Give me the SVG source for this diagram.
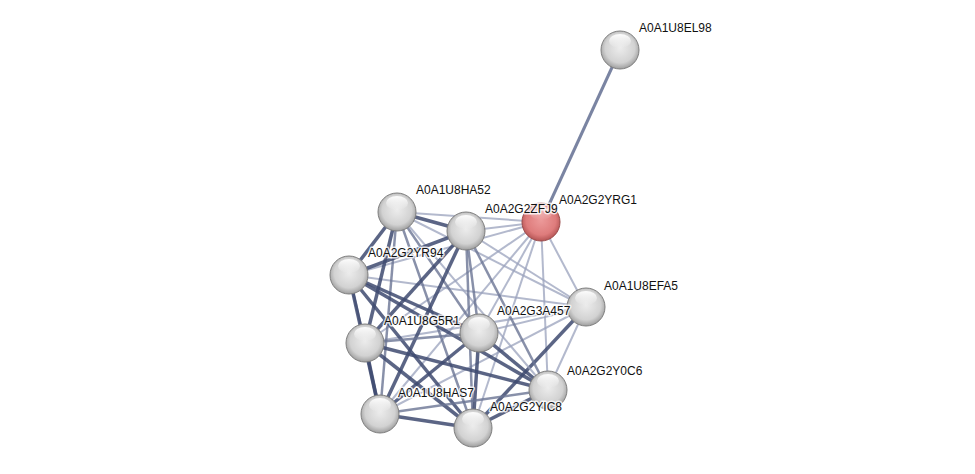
<svg xmlns="http://www.w3.org/2000/svg" width="975" height="474" viewBox="0 0 975 474">
<defs>
<radialGradient id="gw" cx="0.5" cy="0.45" r="0.6">
<stop offset="0" stop-color="#ececec"/>
<stop offset="0.65" stop-color="#d2d2d2"/>
<stop offset="1" stop-color="#8e8e8e"/>
</radialGradient>
<radialGradient id="gr" cx="0.5" cy="0.45" r="0.6">
<stop offset="0" stop-color="#ec9a9a"/>
<stop offset="0.65" stop-color="#de7c7c"/>
<stop offset="1" stop-color="#a84848"/>
</radialGradient>
<linearGradient id="hl" x1="0" y1="0" x2="0" y2="1">
<stop offset="0" stop-color="#fff" stop-opacity="0.95"/>
<stop offset="1" stop-color="#fff" stop-opacity="0"/>
</linearGradient>
<g id="ball">
<circle r="19" fill="url(#gw)" stroke="#7e7e7e" stroke-width="1"/>
<ellipse cx="0" cy="-9" rx="11" ry="7" fill="url(#hl)"/>
</g>
<g id="rball">
<circle r="19" fill="url(#gr)" stroke="#9a4a4a" stroke-width="1"/>
<ellipse cx="0" cy="-9" rx="11" ry="7" fill="url(#hl)" opacity="0.6"/>
</g>
</defs>
<style>
text{font-family:"Liberation Sans",Arial,sans-serif;font-size:12px;fill:#111;paint-order:stroke;stroke:#fff;stroke-width:3px;stroke-opacity:0.8;stroke-linejoin:round}
.l{stroke:#9aa2bc;stroke-width:2;fill:none;opacity:0.75}
.m{stroke:#6a7494;stroke-width:2.5;fill:none;opacity:0.8}
.t{stroke:#3e4a70;stroke-width:3.5;fill:none;opacity:0.85}
.e{stroke:#7a84a2;stroke-width:3;fill:none}
</style>
<rect width="975" height="474" fill="#fff"/>
<g id="edges">
<line class="e" x1="541" y1="222" x2="620" y2="50"/>
<line class="l" x1="541" y1="222" x2="397" y2="212"/>
<line class="l" x1="541" y1="222" x2="466" y2="231"/>
<line class="l" x1="541" y1="222" x2="349" y2="275"/>
<line class="l" x1="541" y1="222" x2="365" y2="343"/>
<line class="l" x1="541" y1="222" x2="479" y2="333"/>
<line class="l" x1="541" y1="222" x2="380" y2="414"/>
<line class="l" x1="541" y1="222" x2="473" y2="428"/>
<line class="l" x1="541" y1="222" x2="548" y2="390"/>
<line class="l" x1="541" y1="222" x2="586" y2="307"/>
<line class="l" x1="586" y1="307" x2="397" y2="212"/>
<line class="l" x1="586" y1="307" x2="466" y2="231"/>
<line class="l" x1="586" y1="307" x2="349" y2="275"/>
<line class="l" x1="586" y1="307" x2="365" y2="343"/>
<line class="l" x1="586" y1="307" x2="479" y2="333"/>
<line class="l" x1="586" y1="307" x2="548" y2="390"/>
<line class="t" x1="586" y1="307" x2="473" y2="428"/>
<line class="l" x1="586" y1="307" x2="380" y2="414"/>
<line class="t" x1="397" y1="212" x2="466" y2="231"/>
<line class="t" x1="397" y1="212" x2="349" y2="275"/>
<line class="t" x1="397" y1="212" x2="365" y2="343"/>
<line class="m" x1="397" y1="212" x2="479" y2="333"/>
<line class="m" x1="397" y1="212" x2="380" y2="414"/>
<line class="m" x1="397" y1="212" x2="473" y2="428"/>
<line class="l" x1="397" y1="212" x2="548" y2="390"/>
<line class="t" x1="466" y1="231" x2="349" y2="275"/>
<line class="t" x1="466" y1="231" x2="365" y2="343"/>
<line class="m" x1="466" y1="231" x2="479" y2="333"/>
<line class="t" x1="466" y1="231" x2="380" y2="414"/>
<line class="m" x1="466" y1="231" x2="473" y2="428"/>
<line class="m" x1="466" y1="231" x2="548" y2="390"/>
<line class="m" x1="349" y1="275" x2="365" y2="343"/>
<line class="t" x1="349" y1="275" x2="479" y2="333"/>
<line class="t" x1="349" y1="275" x2="380" y2="414"/>
<line class="t" x1="349" y1="275" x2="473" y2="428"/>
<line class="t" x1="349" y1="275" x2="548" y2="390"/>
<line class="m" x1="365" y1="343" x2="479" y2="333"/>
<line class="t" x1="365" y1="343" x2="380" y2="414"/>
<line class="t" x1="365" y1="343" x2="473" y2="428"/>
<line class="t" x1="365" y1="343" x2="548" y2="390"/>
<line class="t" x1="479" y1="333" x2="380" y2="414"/>
<line class="t" x1="479" y1="333" x2="473" y2="428"/>
<line class="t" x1="479" y1="333" x2="548" y2="390"/>
<line class="t" x1="380" y1="414" x2="473" y2="428"/>
<line class="m" x1="380" y1="414" x2="548" y2="390"/>
<line class="t" x1="473" y1="428" x2="548" y2="390"/>
</g>
<g id="A0A1U8EL98"><use href="#ball" x="620" y="50"/><text x="639" y="32">A0A1U8EL98</text></g>
<g id="A0A2G2YRG1"><use href="#rball" x="541" y="222"/><text x="559" y="204">A0A2G2YRG1</text></g>
<g id="A0A1U8HA52"><use href="#ball" x="397" y="212"/><text x="416" y="194">A0A1U8HA52</text></g>
<g id="A0A2G2ZFJ9"><use href="#ball" x="466" y="231"/><text x="485" y="213">A0A2G2ZFJ9</text></g>
<g id="A0A2G2YR94"><use href="#ball" x="349" y="275"/><text x="368" y="257">A0A2G2YR94</text></g>
<g id="A0A1U8EFA5"><use href="#ball" x="586" y="307"/><text x="604" y="290">A0A1U8EFA5</text></g>
<g id="A0A1U8G5R1"><use href="#ball" x="365" y="343"/><text x="384" y="325">A0A1U8G5R1</text></g>
<g id="A0A2G3A457"><use href="#ball" x="479" y="333"/><text x="497" y="315">A0A2G3A457</text></g>
<g id="A0A2G2Y0C6"><use href="#ball" x="548" y="390"/><text x="567" y="375">A0A2G2Y0C6</text></g>
<g id="A0A1U8HAS7"><use href="#ball" x="380" y="414"/><text x="398" y="397">A0A1U8HAS7</text></g>
<g id="A0A2G2YIC8"><use href="#ball" x="473" y="428"/><text x="490" y="411">A0A2G2YIC8</text></g>
</svg>
